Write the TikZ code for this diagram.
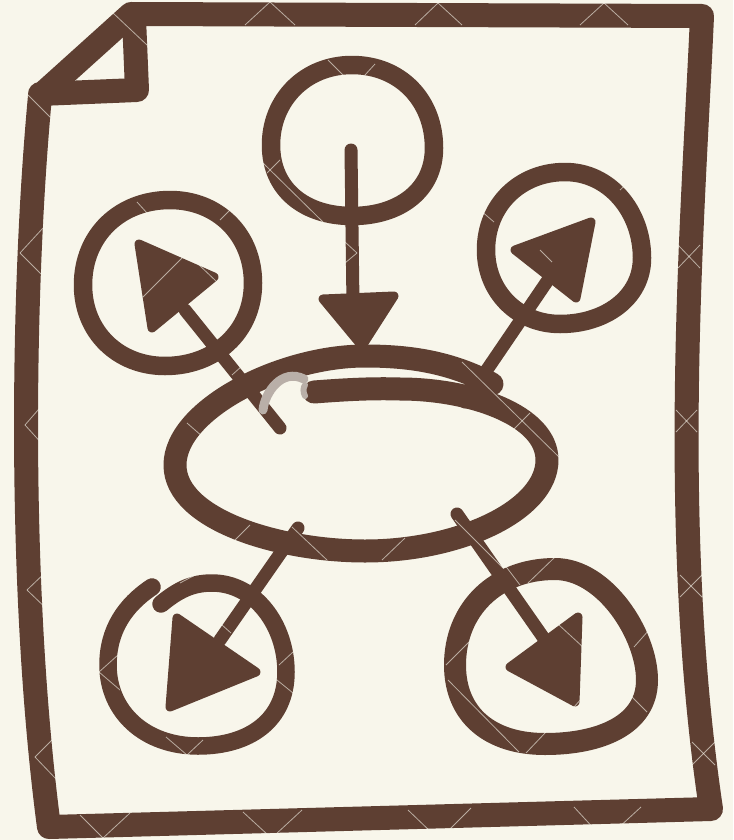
\documentclass[tikz,border=0pt]{standalone}
\definecolor{paper}{HTML}{F8F6EB}
\definecolor{ink}{HTML}{5E3F32}
\definecolor{mark}{HTML}{B9AFA8}
\tikzset{
  sheet/.style={draw=ink,line width=24pt,line join=round,line cap=round},
  ring/.style={draw=ink,line width=18.5pt,line cap=round,line join=round},
  shaft/.style={draw=ink,line width=13pt,line cap=round},
  tip/.style={draw=ink,fill=ink,line width=9pt,line join=round},
  wmark/.style={draw=paper,line width=0.8pt,opacity=0.6}
}
\begin{document}
\begin{tikzpicture}[x=1pt,y=-1pt]
\useasboundingbox[fill=paper] (0,0) rectangle (733,840);

% Sheet outline with folded corner
\draw[sheet] (40,96) -- (131,14) -- (702,16)
  .. controls (693,220) and (668,520) .. (711,809) -- (49,827)
  .. controls (19,600) and (21,300) .. (40,96) -- cycle;
\draw[sheet] (134,18) -- (137,90) -- (40,94);
\fill[ink] (40,96) -- (131,14) -- (118,34) -- (60,85) -- cycle;

% Centre oval, drawn in one stroke
\draw[ring,line width=23pt] (492,384) .. controls (450,362) and (410,356) .. (365,356)
  .. controls (280,356) and (175,410) .. (175,465)
  .. controls (175,520) and (280,551) .. (365,551)
  .. controls (460,551) and (547,510) .. (547,460)
  .. controls (547,415) and (470,389) .. (400,389)
  .. controls (370,388) and (340,390) .. (314,392);

% Top circle and arrow
\draw[ring] (271,145) .. controls (271,100) and (305,65) .. (352,65)
  .. controls (400,65) and (434,100) .. (434,148)
  .. controls (434,190) and (400,216) .. (352,216)
  .. controls (305,216) and (271,190) .. (271,145) -- cycle;
\draw[shaft] (351,150) -- (353,305);
\filldraw[tip] (323,299) -- (394,296) -- (362,346) -- cycle;

% Upper left circle and arrow
\draw[ring] (83,285) .. controls (83,235) and (120,200) .. (170,200)
  .. controls (218,200) and (253,235) .. (253,283)
  .. controls (253,332) and (215,366) .. (165,366)
  .. controls (118,366) and (83,332) .. (83,285) -- cycle;
\draw[shaft] (280,428) -- (185,310);
\filldraw[tip] (139,244) -- (214,277) -- (152,328) -- cycle;

% Upper right circle and arrow
\draw[ring] (486,250) .. controls (486,205) and (520,172) .. (565,172)
  .. controls (610,172) and (642,212) .. (642,258)
  .. controls (642,298) and (605,324) .. (560,324)
  .. controls (518,324) and (486,292) .. (486,250) -- cycle;
\draw[shaft] (465,402) -- (548,280);
\filldraw[tip] (591,222) -- (576,298) -- (515,250) -- cycle;

% Lower left circle left open and arrow
\draw[ring,line width=17.5pt] (161,604) .. controls (178,590) and (192,583) .. (212,583)
  .. controls (255,583) and (286,625) .. (286,672)
  .. controls (286,720) and (250,746) .. (198,746)
  .. controls (145,746) and (108,712) .. (108,665)
  .. controls (108,630) and (125,605) .. (152,587);
\draw[shaft] (298,528) -- (220,640);
\filldraw[tip] (177,618) -- (256,672) -- (170,707) -- cycle;

% Lower right circle and arrow
\draw[ring,line width=22pt] (455,665) .. controls (455,610) and (495,569) .. (555,569)
  .. controls (605,569) and (647,635) .. (647,680)
  .. controls (647,725) and (600,744) .. (545,744)
  .. controls (490,744) and (455,715) .. (455,665) -- cycle;
\draw[shaft] (457,514) -- (545,640);
\filldraw[tip] (578,617) -- (510,667) -- (575,702) -- cycle;

% Watermark
\draw[draw=mark,line width=9pt,line cap=round] (263,410) .. controls (265,392) and (282,368) .. (304,379);
\draw[draw=mark,line width=6pt,line cap=round] (305,385) .. controls (303,388) and (303,392) .. (305,396);
\foreach \xa/\ya/\xb/\yb in {
  245/25/270/2, 270/2/295/25, 415/25/438/3, 438/3/462/25, 580/25/604/3, 604/3/628/25,
  113/13/147/45, 28/95/50/117, 20/253/43/228, 20/253/42/275, 25/425/45/402, 25/425/45/447,
  27/590/50/568, 27/590/50/612, 35/757/57/735, 35/757/57/780,
  137/202/147/213, 220/220/232/208, 143/297/183/257, 197/263/217/282,
  328/60/345/77, 365/75/375/64, 263/163/323/222, 267/173/280/160,
  345/242/357/253, 345/263/357/253, 232/375/242/366, 187/423/203/437,
  232/543/250/525, 292/527/327/560, 382/560/405/538, 462/362/560/458, 513/430/530/413,
  455/520/503/568, 180/583/199/573, 99/672/118/655, 99/672/120/690, 279/665/293/652,
  277/680/293/693, 166/737/187/755, 187/755/203/740, 222/625/231/633, 501/560/520/585,
  528/583/555/557, 446/665/471/640, 448/680/519/752, 526/753/545/733, 634/647/649/630,
  630/695/647/712, 559/625/584/648, 574/707/582/698,
  80/815/103/838, 103/838/130/813, 243/812/268/835, 275/835/302/810, 408/810/432/833,
  446/833/471/808, 574/807/597/832, 616/830/641/807,
  678/245/700/268, 678/268/700/245, 676/410/697/432, 676/432/697/410,
  680/575/702/597, 680/597/702/575, 692/742/715/765, 692/765/715/742,
  540/250/552/262, 480/210/494/222, 620/190/633/178}
  \draw[wmark] (\xa,\ya) -- (\xb,\yb);
\end{tikzpicture}
\end{document}
